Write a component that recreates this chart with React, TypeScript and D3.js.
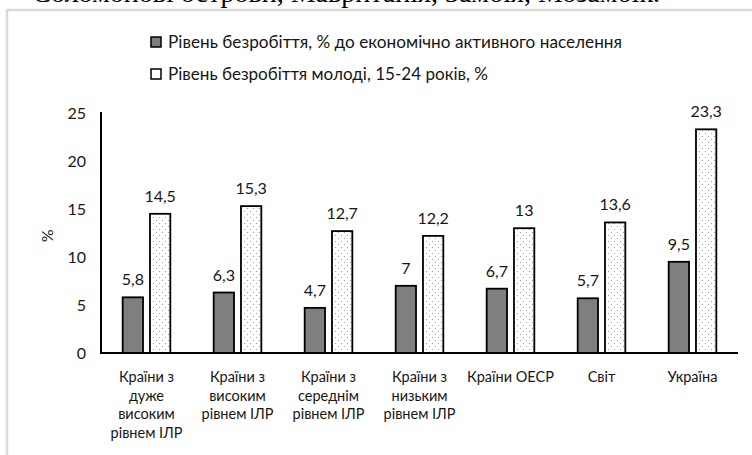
import React, { useEffect, useRef } from 'react';
import * as d3 from 'd3';

const categories = [
  'Країни з дуже високим рівнем ІЛР',
  'Країни з високим рівнем ІЛР',
  'Країни з середнім рівнем ІЛР',
  'Країни з низьким рівнем ІЛР',
  'Країни ОЕСР',
  'Світ',
  'Україна',
];
// how each category label wraps in the picture
const categoryLines = [
  ['Країни з', 'дуже', 'високим', 'рівнем ІЛР'],
  ['Країни з', 'високим', 'рівнем ІЛР'],
  ['Країни з', 'середнім', 'рівнем ІЛР'],
  ['Країни з', 'низьким', 'рівнем ІЛР'],
  ['Країни ОЕСР'],
  ['Світ'],
  ['Україна'],
];
const unemployment = [5.8, 6.3, 4.7, 7, 6.7, 5.7, 9.5];
const youthUnemployment = [14.5, 15.3, 12.7, 12.2, 13, 13.6, 23.3];
const seriesNames = [
  'Рівень безробіття, % до економічно активного населення',
  'Рівень безробіття молоді, 15-24 років, %',
];
const yTicks = [0, 5, 10, 15, 20, 25];

const FONT = 'Lato, "Open Sans", sans-serif';
const INK = '#161616';

const App: React.FC = () => {
  const ref = useRef<SVGSVGElement | null>(null);
  const width = 752;
  const height = 455;
  const margin = { top: 113, right: 14, bottom: 102, left: 101 };

  useEffect(() => {
    if (!ref.current) return;
    const svg = d3.select(ref.current);
    svg.selectAll('*').remove();

    const defs = svg.append('defs');
    const pat = defs.append('pattern')
      .attr('id', 'dots')
      .attr('patternUnits', 'userSpaceOnUse')
      .attr('width', 6)
      .attr('height', 6);
    pat.append('rect').attr('width', 6).attr('height', 6).attr('fill', '#fff');
    pat.append('rect').attr('x', 1).attr('y', 1).attr('width', 1).attr('height', 1).attr('fill', '#9a9a9a');
    pat.append('rect').attr('x', 4).attr('y', 4).attr('width', 1).attr('height', 1).attr('fill', '#9a9a9a');

    // text of the page above the chart, cut off at the top as in the source
    svg.append('text')
      .attr('x', 660)
      .attr('y', 2)
      .attr('text-anchor', 'end')
      .style('font-family', '"Liberation Serif", "Times New Roman", serif')
      .style('font-size', '28px')
      .text('Соломонові острови, Мавританія, Замбія, Мозамбік.');

    // chart area border
    svg.append('rect')
      .attr('x', 7)
      .attr('y', 10)
      .attr('width', 800)
      .attr('height', 500)
      .attr('fill', 'none')
      .attr('stroke', '#d9d9d9')
      .attr('stroke-width', 2.5);

    const x0 = d3.scaleBand<string>()
      .domain(categories)
      .range([margin.left, width - margin.right])
      .paddingInner(0.46)
      .paddingOuter(0.23);

    const keys = ['u', 'y'];
    const x1 = d3.scaleBand<string>()
      .domain(keys)
      .range([0, x0.bandwidth()])
      .paddingInner(0.2);

    const y = d3.scaleLinear()
      .domain([0, 25])
      .range([height - margin.bottom, margin.top]);

    // y tick labels
    svg.append('g')
      .selectAll('text')
      .data(yTicks)
      .join('text')
      .attr('x', 86)
      .attr('y', d => y(d))
      .attr('dy', '0.35em')
      .attr('text-anchor', 'end')
      .style('font-family', FONT)
      .style('font-size', '16px')
      .attr('fill', INK)
      .text(d => String(d));

    svg.append('text')
      .attr('transform', `translate(47,${y(12.2)}) rotate(-90)`)
      .attr('text-anchor', 'middle')
      .attr('dy', '0.35em')
      .style('font-family', FONT)
      .style('font-size', '16px')
      .attr('fill', INK)
      .text('%');

    const rows = categories.map((c, i) => ({ c, i, vals: [unemployment[i], youthUnemployment[i]] }));

    const group = svg.append('g')
      .selectAll('g')
      .data(rows)
      .join('g')
      .attr('transform', d => `translate(${x0(d.c)},0)`);

    group.selectAll('rect')
      .data(d => keys.map((k, j) => ({ k, v: d.vals[j] })))
      .join('rect')
      .attr('x', d => x1(d.k)! + 0.75)
      .attr('y', d => y(d.v))
      .attr('width', x1.bandwidth() - 1.5)
      .attr('height', d => y(0) - y(d.v))
      .attr('fill', d => (d.k === 'u' ? '#7f7f7f' : 'url(#dots)'))
      .attr('stroke', '#000')
      .attr('stroke-width', 1.8);

    group.selectAll('text.val')
      .data(d => keys.map((k, j) => ({ k, v: d.vals[j] })))
      .join('text')
      .attr('class', 'val')
      .attr('x', d => x1(d.k)! + x1.bandwidth() / 2)
      .attr('y', d => y(d.v) - 12)
      .attr('text-anchor', 'middle')
      .style('font-family', FONT)
      .style('font-size', '16px')
      .attr('fill', INK)
      .text(d => String(d.v).replace('.', ','));

    // axis lines
    svg.append('line')
      .attr('x1', margin.left).attr('x2', margin.left)
      .attr('y1', y(25) - 1).attr('y2', y(0))
      .attr('stroke', '#000').attr('stroke-width', 2);
    svg.append('line')
      .attr('x1', margin.left - 1).attr('x2', width - margin.right)
      .attr('y1', y(0)).attr('y2', y(0))
      .attr('stroke', '#000').attr('stroke-width', 2);

    // category labels
    const lab = svg.append('g')
      .selectAll('text')
      .data(rows)
      .join('text')
      .attr('x', d => x0(d.c)! + x0.bandwidth() / 2)
      .attr('y', 382)
      .attr('text-anchor', 'middle')
      .style('font-family', FONT)
      .style('font-size', '14.5px')
      .attr('fill', INK);
    lab.selectAll('tspan')
      .data(d => categoryLines[d.i])
      .join('tspan')
      .attr('x', function () {
        return (this.parentNode as SVGTextElement).getAttribute('x');
      })
      .attr('dy', (_d, j) => (j === 0 ? 0 : 18.5))
      .text(d => d);

    // legend
    const legend = svg.append('g');
    const ly = [42, 74];
    const lw = [454, 320];
    seriesNames.forEach((name, i) => {
      legend.append('rect')
        .attr('x', 151)
        .attr('y', ly[i] - 5)
        .attr('width', 10)
        .attr('height', 10)
        .attr('fill', i === 0 ? '#7f7f7f' : '#fff')
        .attr('stroke', '#000')
        .attr('stroke-width', 1.5);
      legend.append('text')
        .attr('x', 168)
        .attr('y', ly[i])
        .attr('dy', '0.35em')
        .attr('textLength', lw[i])
        .attr('lengthAdjust', 'spacingAndGlyphs')
        .style('font-family', FONT)
        .style('font-size', '16.5px')
        .attr('fill', INK)
        .text(name);
    });
  }, []);

  return (
    <svg
      ref={ref}
      width={width}
      height={height}
      style={{ position: 'absolute', left: 0, top: 0, background: '#fff' }}
    />
  );
};

export default App;
